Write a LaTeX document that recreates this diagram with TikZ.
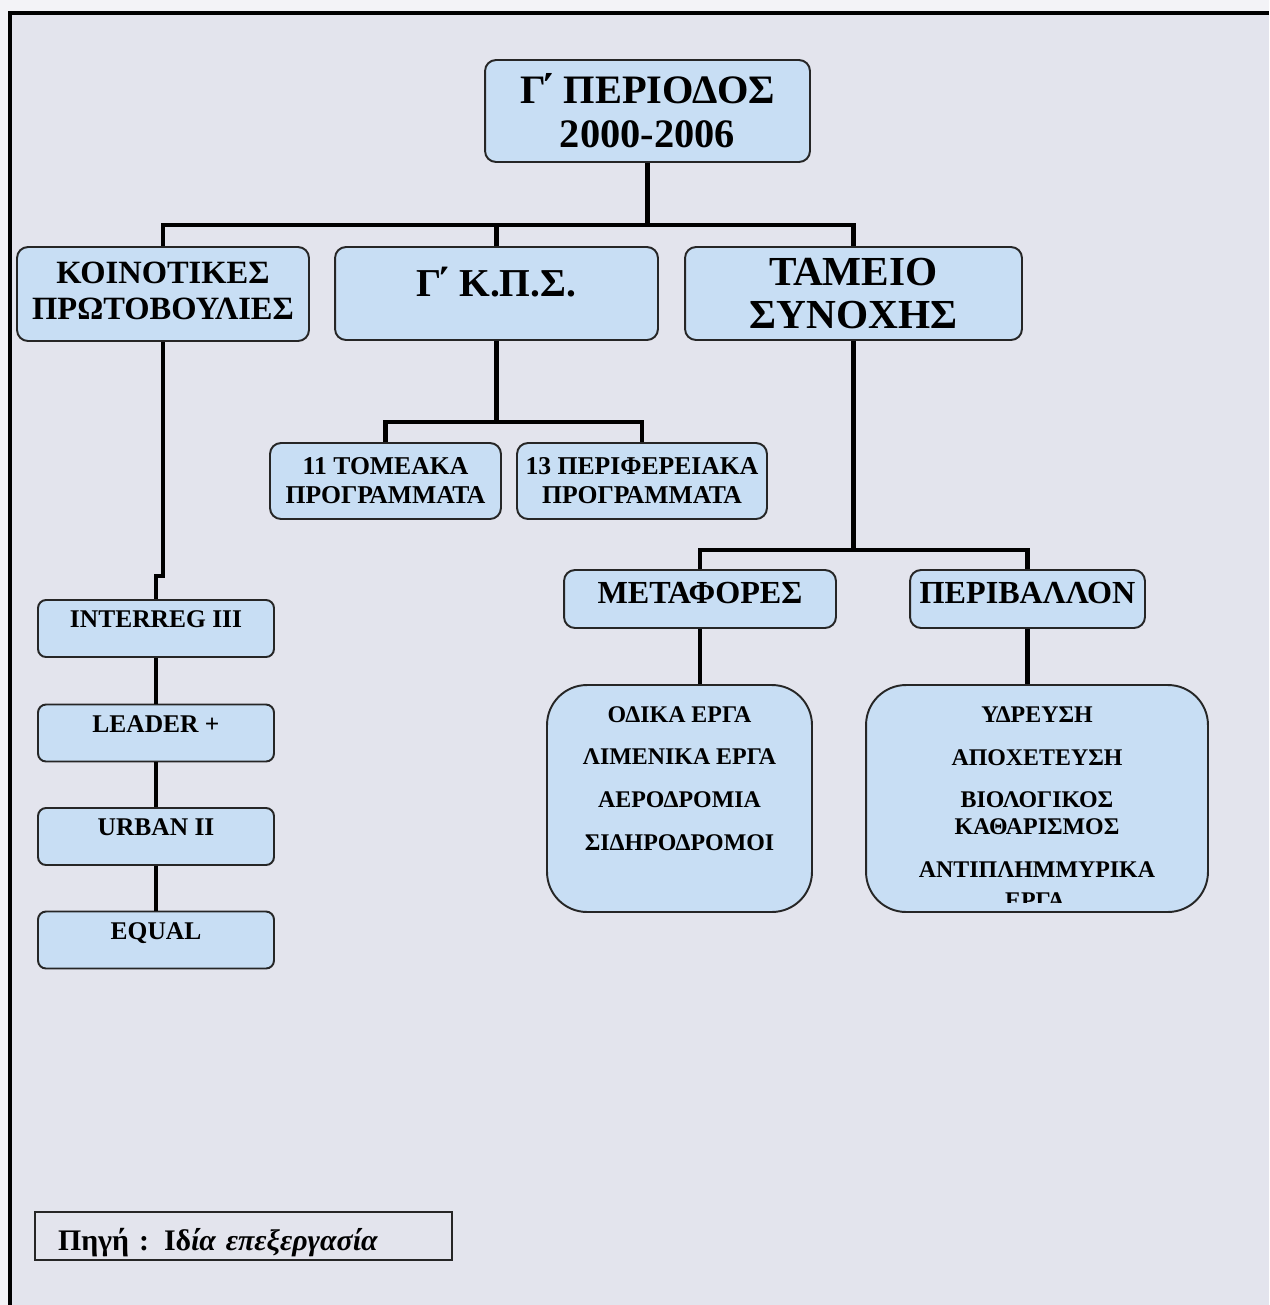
\documentclass[tikz,border=0pt]{standalone}
\usepackage{fontspec}
\setmainfont{Liberation Serif}
\definecolor{pagewhite}{RGB}{243,243,247}
\definecolor{bggray}{RGB}{227,228,237}
\definecolor{boxblue}{RGB}{200,222,244}
\newcommand{\gtonos}{Γ\kern-0.14em΄}
\begin{document}
\begin{tikzpicture}[
            x=0.02cm, y=-0.02cm,
            box/.style={draw=black!85, line width=1.1pt, fill=boxblue, rounded corners=0.22cm,
                    align=center, inner sep=0pt, font=\bfseries},
            bigbox/.style={box, rounded corners=0.8cm},
            smallbox/.style={box, rounded corners=0.16cm, minimum width=4.72cm, minimum height=1.14cm,
                    text depth=0.36cm, font=\bfseries\fontsize{14.5}{16}\selectfont},
            conn/.style={line width=2.5pt}
        ]
        \useasboundingbox (0,0) rectangle (1269,1305);
        \fill[pagewhite] (0,0) rectangle (1269,1305);
        \fill[bggray] (10,13) rectangle (1269,1305);
        \draw[line width=2.3pt] (10,1305) -- (10,13) -- (1269,13);

        \node[box, minimum width=6.5cm, minimum height=2.04cm,
            font=\bfseries\fontsize{23}{25}\selectfont] (period) at (647.5,111) {\gtonos{} ΠΕΡΙΟΔΟΣ\\2000-2006};

        \node[box, minimum width=5.84cm, minimum height=1.88cm, text depth=0.12cm,
            font=\bfseries\fontsize{18.5}{20.5}\selectfont] (koin) at (163,294) {ΚΟΙΝΟΤΙΚΕΣ\\ΠΡΩΤΟΒΟΥΛΙΕΣ};
        \node[box, minimum width=6.46cm, minimum height=1.86cm, text depth=0.46cm,
            font=\bfseries\fontsize{22.5}{24}\selectfont] (kps) at (496.5,293.5) {\gtonos{} Κ.Π.Σ.};
        \node[box, minimum width=6.74cm, minimum height=1.86cm,
            font=\bfseries\fontsize{23.5}{25}\selectfont] (tameio) at (853.5,293.5) {ΤΑΜΕΙΟ\\ΣΥΝΟΧΗΣ};

        \node[box, minimum width=4.62cm, minimum height=1.52cm,
            font=\bfseries\fontsize{14.6}{16.6}\selectfont] (tomeaka) at (385.5,481) {11 ΤΟΜΕΑΚΑ\\ΠΡΟΓΡΑΜΜΑΤΑ};
        \node[box, minimum width=5cm, minimum height=1.52cm,
            font=\bfseries\fontsize{14.6}{16.6}\selectfont] (perifer) at (642,481) {13 ΠΕΡΙΦΕΡΕΙΑΚΑ\\ΠΡΟΓΡΑΜΜΑΤΑ};

        \node[box, minimum width=5.44cm, minimum height=1.16cm, text depth=0.26cm,
            font=\bfseries\fontsize{18.3}{20}\selectfont] (metaf) at (700,599) {ΜΕΤΑΦΟΡΕΣ};
        \node[box, minimum width=4.7cm, minimum height=1.16cm, text depth=0.26cm,
            font=\bfseries\fontsize{18.3}{20}\selectfont] (periv) at (1027.5,599) {ΠΕΡΙΒΑΛΛΟΝ};

        \node[bigbox, minimum width=5.3cm, minimum height=4.54cm, text depth=0.8cm,
            font=\bfseries\fontsize{13.6}{24.4}\selectfont] (odika) at (679.5,798.5)
            {ΟΔΙΚΑ ΕΡΓΑ\\ΛΙΜΕΝΙΚΑ ΕΡΓΑ\\ΑΕΡΟΔΡΟΜΙΑ\\ΣΙΔΗΡΟΔΡΟΜΟΙ};
        \node[bigbox, minimum width=6.84cm, minimum height=4.54cm, text depth=0.26cm,
            font=\bfseries\fontsize{13.6}{24.4}\selectfont] (ydreusi) at (1037,798.5)
            {ΥΔΡΕΥΣΗ\\ΑΠΟΧΕΤΕΥΣΗ\\ΒΙΟΛΟΓΙΚΟΣ\\[-9.1pt]ΚΑΘΑΡΙΣΜΟΣ\\ΑΝΤΙΠΛΗΜΜΥΡΙΚΑ};
        \begin{scope}
            \clip (870,884) rectangle (1205,902);
            \node[font=\bfseries\fontsize{13.6}{16}\selectfont, inner sep=0pt] (erga) at (1035,901) {ΕΡΓΑ};
        \end{scope}

        \node[smallbox] (interreg) at (156,628.5) {INTERREG III};
        \node[smallbox] (leader) at (156,733) {LEADER +};
        \node[smallbox] (urban) at (156,836.5) {URBAN II};
        \node[smallbox] (equal) at (156,940) {EQUAL};

        \node[draw=black!85, line width=0.9pt, minimum height=0.96cm, text width=7.42cm,
            inner xsep=0.46cm, inner ysep=0pt, align=left, text height=0.56cm, text depth=0cm,
            font=\bfseries\fontsize{17}{18}\selectfont] (source) at (243.5,1236)
            {Πηγή : Ιδ\textit{ία επεξεργασία}};

        \coordinate (top) at (647.5,225);
        \coordinate (mid) at (496.5,422);
        \coordinate (fund) at (853.5,550);
        \coordinate (kink) at (163,576);

        \draw[conn] (period.south) -- (top);
        \draw[conn] (koin.north) -- (koin.north |- top) -- (tameio.north |- top) -- (tameio.north);
        \draw[conn] (kps.north) -- (kps.north |- top);

        \draw[conn] (kps.south) -- (mid);
        \draw[conn] (tomeaka.north) -- (tomeaka.north |- mid) -- (perifer.north |- mid) -- (perifer.north);

        \draw[conn] (tameio.south) -- (fund);
        \draw[conn] (metaf.north) -- (metaf.north |- fund) -- (periv.north |- fund) -- (periv.north);
        \draw[conn] (metaf.south) -- (metaf.south |- odika.north);
        \draw[conn] (periv.south) -- (periv.south |- ydreusi.north);

        \draw[conn] (koin.south) -- (kink) -- (kink -| interreg.north) -- (interreg.north);
        \draw[conn] (interreg) -- (leader);
        \draw[conn] (leader) -- (urban);
        \draw[conn] (urban) -- (equal);
    \end{tikzpicture}
\end{document}
